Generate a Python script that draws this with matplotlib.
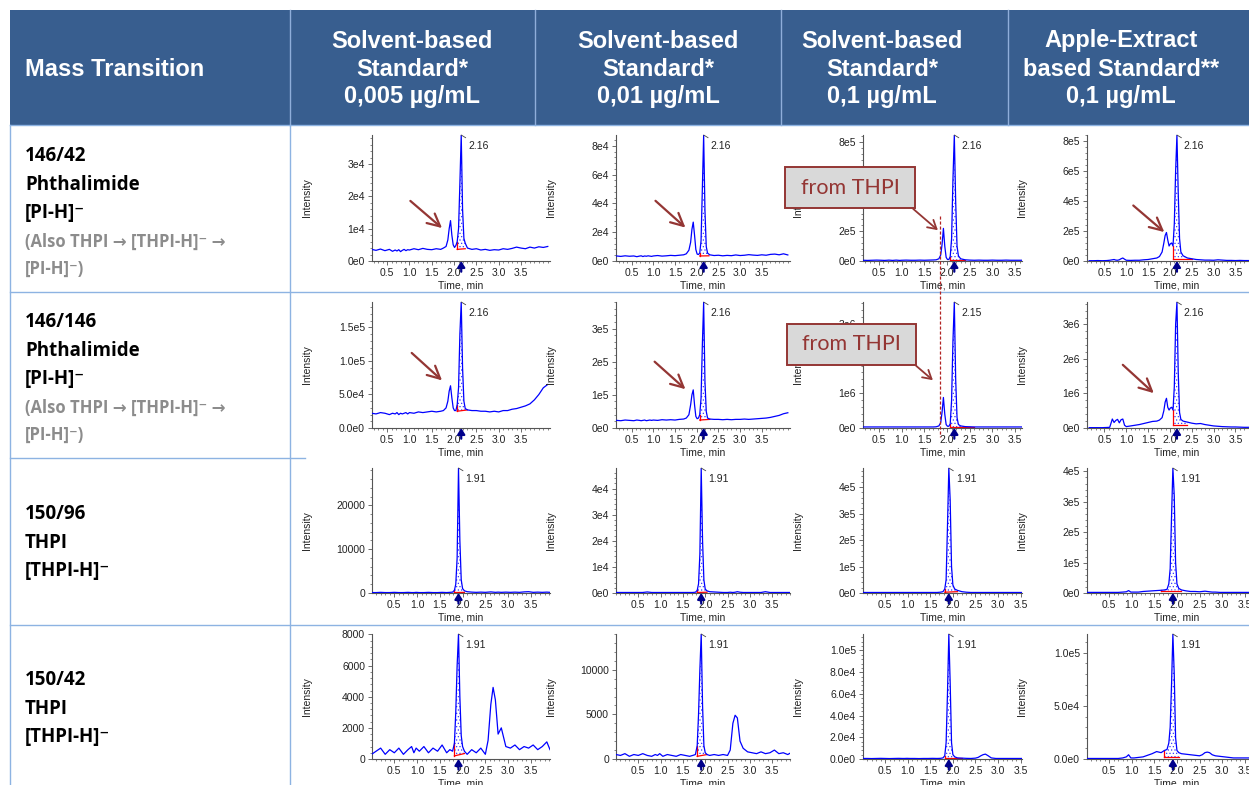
import numpy as np
import matplotlib.pyplot as plt
from matplotlib.patches import Rectangle, FancyArrowPatch
from matplotlib.lines import Line2D
from matplotlib.ticker import MultipleLocator, AutoMinorLocator

# ---- table text ----
header_titles = [
    ["Solvent-based", "Standard*", "0,005 µg/mL"],
    ["Solvent-based", "Standard*", "0,01 µg/mL"],
    ["Solvent-based", "Standard*", "0,1 µg/mL"],
    ["Apple-Extract", "based Standard**", "0,1 µg/mL"],
]
row_titles = [
    ["146/42", "Phthalimide", "[PI-H]\u207b"],
    ["146/146", "Phthalimide", "[PI-H]\u207b"],
    ["150/96", "THPI", "[THPI-H]\u207b"],
    ["150/42", "THPI", "[THPI-H]\u207b"],
]
row_notes = [
    ["(Also THPI \u2192 [THPI-H]\u207b \u2192", "[PI-H]\u207b)"],
    ["(Also THPI \u2192 [THPI-H]\u207b \u2192", "[PI-H]\u207b)"],
    [],
    [],
]
peak_labels = [
    ["2.16", "2.16", "2.16", "2.16"],
    ["2.16", "2.16", "2.15", "2.16"],
    ["1.91", "1.91", "1.91", "1.91"],
    ["1.91", "1.91", "1.91", "1.91"],
]

# ---- chromatogram data ----
# time grid (min) for the phthalimide rows
t_pi = [0.15, 0.25, 0.35, 0.45, 0.55, 0.62, 0.68, 0.72, 0.76, 0.80,
        0.84, 0.88, 0.92, 0.96, 1.0, 1.1, 1.2, 1.3, 1.4, 1.5,
        1.6, 1.7, 1.76, 1.82, 1.86, 1.89, 1.92, 1.95, 1.98, 2.01,
        2.04, 2.07, 2.10, 2.13, 2.16, 2.19, 2.22, 2.25, 2.30, 2.4,
        2.5, 2.6, 2.7, 2.8, 2.9, 3.0, 3.1, 3.2, 3.3, 3.4,
        3.5, 3.6, 3.7, 3.8, 3.9, 4.0, 4.1]

# 146/42 (x1e3, x1e3, x1e5, x1e5)
i146_42_s005 = [3.6, 3.3, 3.7, 3.2, 3.6, 3.0, 3.4, 3.1, 3.5, 2.9,
                3.3, 3.6, 3.2, 3.5, 3.4, 3.8, 3.5, 3.9, 3.6, 3.5,
                3.8, 3.6, 4.0, 4.5, 6.5, 10.0, 12.5, 8.0, 5.0, 4.2,
                4.8, 6.0, 10.0, 24.0, 39.0, 16.0, 7.0, 5.5, 4.0, 3.6,
                3.8, 3.4, 3.6, 3.3, 3.5, 3.4, 3.8, 3.6, 3.9, 4.3,
                4.0, 3.8, 4.3, 4.0, 4.4, 4.2, 4.5]
i146_42_s01 = [3.5, 3.2, 3.6, 3.3, 3.5, 3.0, 3.4, 3.6, 3.1, 3.5,
               3.3, 3.6, 3.4, 3.2, 3.5, 3.8, 3.4, 3.6, 3.9, 3.7,
               4.0, 4.3, 5.0, 7.5, 13.0, 22.0, 27.0, 18.0, 8.0, 4.8,
               4.5, 5.5, 14.0, 50.0, 87.5, 35.0, 10.0, 5.5, 4.3, 3.8,
               4.0, 3.6, 3.9, 3.7, 4.2, 3.8, 4.0, 4.4, 4.1, 3.9,
               4.3, 4.0, 4.6, 4.8, 4.3, 5.0, 4.2]
i146_42_s1 = [0.05, 0.04, 0.05, 0.06, 0.05, 0.04, 0.05, 0.06, 0.05, 0.04,
              0.05, 0.06, 0.05, 0.04, 0.05, 0.06, 0.05, 0.05, 0.06, 0.05,
              0.06, 0.07, 0.08, 0.15, 0.4, 1.1, 2.2, 1.0, 0.25, 0.1,
              0.1, 0.3, 1.5, 5.5, 8.5, 4.0, 1.0, 0.35, 0.15, 0.08,
              0.06, 0.05, 0.06, 0.05, 0.05, 0.06, 0.05, 0.05, 0.06, 0.05,
              0.05, 0.05, 0.05, 0.05, 0.05, 0.05, 0.05]
i146_42_apple = [0.02, 0.02, 0.03, 0.02, 0.03, 0.05, 0.08, 0.1, 0.06, 0.05,
                 0.08, 0.15, 0.2, 0.12, 0.05, 0.04, 0.05, 0.05, 0.08, 0.1,
                 0.15, 0.2, 0.3, 0.6, 1.2, 1.7, 1.9, 1.4, 1.0, 1.15,
                 1.2, 1.0, 2.5, 6.0, 8.4, 4.5, 1.5, 0.6, 0.35, 0.2,
                 0.15, 0.1, 0.08, 0.06, 0.06, 0.05, 0.08, 0.06, 0.04, 0.04,
                 0.03, 0.04, 0.03, 0.03, 0.03, 0.03, 0.03]

# 146/146 (x1e4, x1e4, x1e5, x1e5)
i146_146_s005 = [2.2, 2.1, 2.3, 2.2, 2.0, 2.2, 2.1, 2.3, 2.0, 2.2,
                 2.1, 2.2, 2.3, 2.1, 2.3, 2.2, 2.4, 2.3, 2.4, 2.5,
                 2.4, 2.5, 2.6, 3.0, 4.0, 5.5, 6.3, 4.5, 3.0, 2.6,
                 2.6, 3.5, 6.0, 14.0, 18.8, 9.0, 4.0, 2.9, 2.7, 2.6,
                 2.6, 2.5, 2.5, 2.4, 2.5, 2.4, 2.6, 2.6, 2.8, 2.9,
                 3.1, 3.3, 3.6, 4.2, 5.0, 6.0, 6.5]
i146_146_s01 = [2.3, 2.2, 2.4, 2.3, 2.2, 2.4, 2.3, 2.2, 2.3, 2.4,
                2.2, 2.3, 2.4, 2.3, 2.4, 2.3, 2.5, 2.4, 2.5, 2.4,
                2.6, 2.7, 3.0, 4.0, 7.0, 10.0, 11.5, 7.0, 3.5, 2.8,
                3.0, 4.0, 9.0, 25.0, 38.0, 14.0, 5.0, 3.0, 2.7, 2.6,
                2.6, 2.5, 2.6, 2.5, 2.6, 2.6, 2.7, 2.6, 2.7, 2.8,
                2.9, 3.0, 3.2, 3.5, 3.8, 4.3, 4.6]
i146_146_s1 = [0.3, 0.3, 0.3, 0.3, 0.3, 0.3, 0.3, 0.3, 0.3, 0.3,
               0.3, 0.3, 0.3, 0.3, 0.3, 0.3, 0.3, 0.3, 0.3, 0.3,
               0.3, 0.3, 0.35, 0.6, 1.5, 4.5, 8.8, 4.0, 1.0, 0.5,
               0.5, 1.2, 8.0, 25.0, 36.3, 14.0, 3.0, 1.0, 0.6, 0.4,
               0.35, 0.3, 0.3, 0.3, 0.3, 0.3, 0.3, 0.3, 0.3, 0.3,
               0.3, 0.3, 0.3, 0.3, 0.3, 0.3, 0.3]
i146_146_apple = [0.1, 0.1, 0.1, 0.1, 0.15, 0.2, 2.6, 1.6, 2.2, 2.5,
                  1.5, 2.4, 2.6, 0.8, 0.4, 0.6, 0.8, 1.0, 1.3, 1.6,
                  1.9, 2.0, 2.3, 3.0, 5.0, 7.5, 8.6, 6.0, 5.2, 5.8,
                  6.0, 5.2, 12.0, 30.0, 36.5, 16.0, 4.5, 2.5, 2.0, 1.7,
                  1.4, 1.2, 1.3, 1.0, 0.8, 0.6, 0.5, 0.4, 0.35, 0.3,
                  0.3, 0.25, 0.2, 0.2, 0.2, 0.2, 0.2]

# time grid (min) for the THPI rows
t_thpi = [0.0, 0.1, 0.2, 0.3, 0.4, 0.5, 0.6, 0.7, 0.8, 0.88,
          0.93, 0.98, 1.05, 1.15, 1.25, 1.35, 1.45, 1.55, 1.65, 1.72,
          1.78, 1.82, 1.85, 1.88, 1.91, 1.94, 1.97, 2.0, 2.04, 2.1,
          2.2, 2.3, 2.4, 2.5, 2.56, 2.62, 2.67, 2.72, 2.78, 2.85,
          2.95, 3.05, 3.15, 3.25, 3.35, 3.45, 3.55, 3.65, 3.75, 3.85,
          3.92]

# 150/96 (x1e3, x1e3, x1e5, x1e5)
i150_96_s005 = [0.1, 0.1, 0.15, 0.1, 0.1, 0.15, 0.1, 0.1, 0.15, 0.1,
                0.1, 0.15, 0.1, 0.1, 0.15, 0.1, 0.1, 0.15, 0.1, 0.15,
                0.2, 0.6, 2.0, 8.0, 28.5, 12.0, 3.0, 1.0, 0.5, 0.3,
                0.2, 0.15, 0.2, 0.15, 0.2, 0.25, 0.2, 0.15, 0.2, 0.15,
                0.2, 0.15, 0.2, 0.15, 0.25, 0.3, 0.15, 0.2, 0.15, 0.2,
                0.15]
i150_96_s01 = [0.2, 0.2, 0.2, 0.2, 0.2, 0.2, 0.2, 0.4, 0.2, 0.2,
               0.2, 0.2, 0.2, 0.2, 0.2, 0.2, 0.2, 0.2, 0.2, 0.2,
               0.3, 1.0, 3.5, 15.0, 47.9, 20.0, 5.0, 1.5, 0.8, 0.5,
               0.4, 0.3, 0.2, 0.2, 0.3, 0.2, 0.3, 0.5, 0.3, 0.2,
               0.2, 0.2, 0.2, 0.2, 0.5, 0.2, 0.2, 0.2, 0.2, 0.2,
               0.2]
i150_96_s1 = [0.02, 0.02, 0.02, 0.02, 0.02, 0.02, 0.02, 0.02, 0.02, 0.02,
              0.02, 0.02, 0.02, 0.02, 0.02, 0.02, 0.02, 0.02, 0.02, 0.03,
              0.05, 0.15, 0.5, 2.5, 4.72, 3.5, 1.0, 0.3, 0.15, 0.1,
              0.05, 0.03, 0.02, 0.02, 0.02, 0.02, 0.02, 0.02, 0.02, 0.02,
              0.02, 0.02, 0.02, 0.02, 0.02, 0.02, 0.02, 0.02, 0.02, 0.02,
              0.02]
i150_96_apple = [0.02, 0.02, 0.02, 0.02, 0.02, 0.02, 0.02, 0.02, 0.03, 0.04,
                 0.08, 0.03, 0.03, 0.03, 0.05, 0.06, 0.07, 0.08, 0.09, 0.1,
                 0.12, 0.3, 0.8, 2.5, 4.11, 3.2, 1.0, 0.3, 0.15, 0.1,
                 0.07, 0.05, 0.05, 0.04, 0.05, 0.06, 0.05, 0.04, 0.03, 0.03,
                 0.02, 0.02, 0.02, 0.02, 0.02, 0.02, 0.02, 0.02, 0.02, 0.02,
                 0.02]

# 150/42 (x1e3, x1e3, x1e4, x1e4)
i150_42_s005 = [0.3, 0.5, 0.7, 0.3, 0.6, 0.4, 0.7, 0.3, 0.6, 0.8,
                0.4, 0.7, 0.5, 0.8, 0.4, 0.7, 0.5, 0.9, 0.4, 0.6,
                0.5, 1.0, 3.0, 6.0, 8.03, 4.0, 1.5, 0.8, 0.5, 0.3,
                0.6, 0.4, 0.7, 0.3, 1.2, 3.5, 4.6, 3.8, 1.6, 2.0,
                0.8, 0.7, 0.9, 0.6, 0.8, 0.7, 0.9, 0.6, 0.8, 1.1,
                0.6]
i150_42_s01 = [0.5, 0.4, 0.6, 0.3, 0.5, 0.4, 0.6, 0.4, 0.3, 0.5,
               0.4, 0.6, 0.3, 0.5, 0.4, 0.3, 0.5, 0.4, 0.3, 0.4,
               0.5, 1.5, 5.0, 10.0, 14.0, 6.0, 1.5, 0.7, 0.5, 0.4,
               0.5, 0.4, 0.5, 0.4, 1.0, 4.0, 4.9, 4.6, 2.0, 1.2,
               0.8, 0.7, 0.6, 0.8, 0.6, 0.7, 1.0, 0.6, 0.7, 0.5,
               0.7]
i150_42_s1 = [0.05, 0.05, 0.04, 0.05, 0.06, 0.05, 0.04, 0.05, 0.06, 0.05,
              0.05, 0.06, 0.05, 0.05, 0.04, 0.05, 0.05, 0.06, 0.05, 0.06,
              0.1, 0.3, 1.5, 6.0, 11.52, 7.0, 1.5, 0.4, 0.2, 0.1,
              0.08, 0.06, 0.05, 0.08, 0.15, 0.3, 0.4, 0.45, 0.3, 0.1,
              0.05, 0.05, 0.05, 0.05, 0.05, 0.05, 0.05, 0.05, 0.05, 0.05,
              0.05]
i150_42_apple = [0.05, 0.05, 0.05, 0.05, 0.05, 0.05, 0.05, 0.05, 0.1, 0.2,
                 0.4, 0.1, 0.1, 0.15, 0.2, 0.35, 0.5, 0.7, 0.6, 0.8,
                 0.9, 1.5, 3.0, 7.0, 11.78, 8.0, 2.0, 0.8, 0.6, 0.5,
                 0.45, 0.4, 0.35, 0.3, 0.4, 0.6, 0.65, 0.6, 0.4, 0.3,
                 0.25, 0.2, 0.15, 0.1, 0.1, 0.1, 0.1, 0.1, 0.1, 0.1,
                 0.1]

traces = [
    [i146_42_s005, i146_42_s01, i146_42_s1, i146_42_apple],
    [i146_146_s005, i146_146_s01, i146_146_s1, i146_146_apple],
    [i150_96_s005, i150_96_s01, i150_96_s1, i150_96_apple],
    [i150_42_s005, i150_42_s01, i150_42_s1, i150_42_apple],
]
units = [
    [1e3, 1e3, 1e5, 1e5],
    [1e4, 1e4, 1e5, 1e5],
    [1e3, 1e3, 1e5, 1e5],
    [1e3, 1e3, 1e4, 1e4],
]
# integrated peak: start, end, baseline at start, baseline at end (same units)
integ = [
    [(2.07, 2.25, 3.6, 3.8), (2.07, 2.28, 3.5, 3.6), (2.07, 2.4, 0.05, 0.05), (2.07, 2.5, 0.12, 0.12)],
    [(2.07, 2.30, 2.5, 2.7), (2.07, 2.30, 2.4, 2.6), (2.07, 2.6, 0.3, 0.3), (2.07, 2.4, 1.0, 1.0)],
    [(1.82, 2.04, 0.1, 0.15), (1.82, 2.04, 0.2, 0.3), (1.82, 2.1, 0.03, 0.05), (1.65, 2.1, 0.08, 0.08)],
    [(1.82, 2.04, 0.2, 0.35), (1.82, 2.04, 0.3, 0.5), (1.82, 2.2, 0.05, 0.05), (1.72, 2.04, 0.2, 0.2)],
]
yticks = [
    [[0, 1e4, 2e4, 3e4], [0, 2e4, 4e4, 6e4, 8e4], [0, 2e5, 4e5, 6e5, 8e5], [0, 2e5, 4e5, 6e5, 8e5]],
    [[0, 5e4, 1e5, 1.5e5], [0, 1e5, 2e5, 3e5], [0, 1e6, 2e6, 3e6], [0, 1e6, 2e6, 3e6]],
    [[0, 1e4, 2e4], [0, 1e4, 2e4, 3e4, 4e4], [0, 1e5, 2e5, 3e5, 4e5], [0, 1e5, 2e5, 3e5, 4e5]],
    [[0, 2000, 4000, 6000, 8000], [0, 5000, 10000], [0, 2e4, 4e4, 6e4, 8e4, 1e5], [0, 5e4, 1e5]],
]
ytick_labels = [
    [["0e0", "1e4", "2e4", "3e4"], ["0e0", "2e4", "4e4", "6e4", "8e4"],
     ["0e0", "2e5", "4e5", "6e5", "8e5"], ["0e0", "2e5", "4e5", "6e5", "8e5"]],
    [["0.0e0", "5.0e4", "1.0e5", "1.5e5"], ["0e0", "1e5", "2e5", "3e5"],
     ["0e0", "1e6", "2e6", "3e6"], ["0e0", "1e6", "2e6", "3e6"]],
    [["0", "10000", "20000"], ["0e0", "1e4", "2e4", "3e4", "4e4"],
     ["0e0", "1e5", "2e5", "3e5", "4e5"], ["0e0", "1e5", "2e5", "3e5", "4e5"]],
    [["0", "2000", "4000", "6000", "8000"], ["0", "5000", "10000"],
     ["0.0e0", "2.0e4", "4.0e4", "6.0e4", "8.0e4", "1.0e5"], ["0.0e0", "5.0e4", "1.0e5"]],
]

# ---- layout in pixels ----
W, H = 1249, 785
col_px = [(372, 550), (616, 790), (863, 1022), (1087, 1266)]
row_px = [(135, 261), (302, 428), (468, 593), (634, 759)]
xlims = [
    [(0.16, 4.15), (0.14, 4.15), (0.15, 3.65), (0.10, 4.2)],
    [(0.16, 4.15), (0.14, 4.15), (0.15, 3.65), (0.10, 4.2)],
    [(0.01, 3.92), (0.0, 3.9), (0.01, 3.53), (0.01, 3.97)],
    [(0.01, 3.92), (0.0, 3.9), (0.01, 3.53), (0.01, 3.97)],
]
ARROW_RED = '#943634'
TRACE = '#0000ff'


def fx(px):
    return px / W


def fy(py):
    return 1 - py / H


fig = plt.figure(figsize=(W / 100, H / 100), dpi=100)
plt.rcParams['hatch.linewidth'] = 0.5


def fig_line(x0, y0, x1, y1, **kw):
    fig.add_artist(Line2D([fx(x0), fx(x1)], [fy(y0), fy(y1)], transform=fig.transFigure, **kw))


# header band
fig.add_artist(Rectangle((fx(10), fy(125)), fx(1249) - fx(10), 115 / H, transform=fig.transFigure,
                         facecolor='#385E8F', edgecolor='none', zorder=0.5))
for xs in [290, 535, 781, 1008]:
    fig_line(xs, 10, xs, 125, color='#8FAEDA', lw=1)
fig.text(fx(25), fy(69), "Mass Transition", color='white', fontsize=17, fontweight='bold',
         family='Liberation Sans', ha='left', va='center')
head_cx = [412, 658, 882, 1121]
for cx, lines in zip(head_cx, header_titles):
    for k, s in enumerate(lines):
        fig.text(fx(cx), fy(41 + 28 * k), s, color='white', fontsize=17, fontweight='bold',
                 family='Liberation Sans', ha='center', va='center')

# table grid
grid_c = '#8DB3E2'
fig_line(10, 125, 10, 785, color=grid_c, lw=1)
fig_line(290, 125, 290, 785, color=grid_c, lw=1)
fig_line(10, 125, 1249, 125, color=grid_c, lw=1)
fig_line(10, 292, 1249, 292, color=grid_c, lw=1)
fig_line(10, 458, 305, 458, color=grid_c, lw=1)
fig_line(10, 625, 1249, 625, color=grid_c, lw=1)

# row labels
row_y0 = [156, 322, 514, 680]
for y0, lines, notes in zip(row_y0, row_titles, row_notes):
    for k, s in enumerate(lines):
        fig.text(fx(25), fy(y0 + 28.5 * k), s, color='black', fontsize=13.5, fontweight='bold',
                 family=['Open Sans', 'DejaVu Sans'], ha='left', va='center')
    for k, s in enumerate(notes):
        fig.text(fx(25), fy(y0 + 28.5 * 3 + 27.5 * k), s, color='#8C8C8C', fontsize=12,
                 fontweight='bold', family=['Open Sans', 'DejaVu Sans'], ha='left', va='center')

# red arrows pointing at the THPI-derived peak (data coords of each panel)
red_arrows = {
    (0, 0): ((1.02, 1.86e4), (1.73, 1.02e4)),
    (0, 1): ((1.05, 4.18e4), (1.74, 2.32e4)),
    (0, 3): ((1.16, 3.7e5), (1.87, 1.93e5)),
    (1, 0): ((1.05, 1.12e5), (1.73, 7.1e4)),
    (1, 1): ((1.03, 2.0e5), (1.74, 1.17e5)),
    (1, 3): ((0.92, 1.83e6), (1.63, 1.01e6)),
}

for r in range(4):
    t = np.array(t_pi if r < 2 else t_thpi)
    for c in range(4):
        y = np.array(traces[r][c]) * units[r][c]
        x0, x1 = col_px[c]
        top, bot = row_px[r]
        ax = fig.add_axes([fx(x0), fy(bot), (x1 - x0) / W, (bot - top) / H])
        ymax = y.max()
        ax.set_xlim(*xlims[r][c])
        ax.set_ylim(0, ymax)

        # integrated area
        a, b, b0, b1 = integ[r][c]
        b0 *= units[r][c]
        b1 *= units[r][c]
        m = (t >= a) & (t <= b)
        ts = t[m]
        base = b0 + (b1 - b0) * (ts - a) / (b - a)
        ax.fill_between(ts, base, np.maximum(y[m], base), facecolor='none', edgecolor='#3a3aff',
                        hatch='.....', linewidth=0, zorder=1)
        ax.plot([a, b], [b0, b1], color='red', lw=0.9, zorder=2)
        ax.plot([a, a], [b0, np.interp(a, t, y)], color='red', lw=0.9, zorder=2)
        ax.plot(t, y, color=TRACE, lw=0.9, zorder=3)

        # apex label
        ip = int(np.argmax(y))
        tp = t[ip]
        ax.annotate(peak_labels[r][c], xy=(tp, ymax), xytext=(5, -4), textcoords='offset points',
                    ha='left', va='top', fontsize=7.5, family='Liberation Sans', color='#222222',
                    arrowprops=dict(arrowstyle='-', lw=0.6, color='#444444', shrinkA=0, shrinkB=0),
                    annotation_clip=False)
        # retention time marker
        ax.annotate('', xy=(tp, 0.0), xycoords=('data', 'axes fraction'),
                    xytext=(tp, -0.085), textcoords=('data', 'axes fraction'),
                    arrowprops=dict(arrowstyle='-|>,head_width=0.22,head_length=0.35',
                                    color='#00008B', lw=1.6, shrinkA=0, shrinkB=0),
                    annotation_clip=False)

        if (r, c) in red_arrows:
            tail, head = red_arrows[(r, c)]
            ax.annotate('', xy=head, xytext=tail,
                        arrowprops=dict(arrowstyle='->,head_length=0.9,head_width=0.45',
                                        color=ARROW_RED, lw=1.6, shrinkA=0, shrinkB=0),
                        annotation_clip=False)

        # axes style
        for sp in ['top', 'right']:
            ax.spines[sp].set_visible(False)
        for sp in ['left', 'bottom']:
            ax.spines[sp].set_color('#555555')
            ax.spines[sp].set_linewidth(0.8)
        ax.set_xticks([0.5, 1.0, 1.5, 2.0, 2.5, 3.0, 3.5])
        ax.set_xticklabels(['0.5', '1.0', '1.5', '2.0', '2.5', '3.0', '3.5'])
        ax.xaxis.set_minor_locator(MultipleLocator(0.1))
        ax.set_yticks(yticks[r][c])
        ax.set_yticklabels(ytick_labels[r][c])
        ax.yaxis.set_minor_locator(AutoMinorLocator(5))
        ax.tick_params(which='major', labelsize=7.5, length=3, width=0.6, color='#555555',
                       labelcolor='#222222', pad=2)
        ax.tick_params(which='minor', length=1.5, width=0.5, color='#555555')
        for lab in ax.get_xticklabels() + ax.get_yticklabels():
            lab.set_family('Liberation Sans')
        ax.set_xlabel('Time, min', fontsize=7.5, family='Liberation Sans', color='#222222', labelpad=2)
        ax.set_ylabel('Intensity', fontsize=7.5, family='Liberation Sans', color='#222222')
        ax.yaxis.set_label_coords(-60 / (x1 - x0), 0.5)
        ax.patch.set_alpha(0)

# "from THPI" callouts on the 0,1 µg/mL solvent standard
for (bx0, by0, bx1, by1), tail, head in [((785, 167, 915, 208), (911, 207), (940, 232)),
                                          ((787, 324, 916, 365), (914, 364), (935, 382))]:
    fig.add_artist(Rectangle((fx(bx0), fy(by1)), (bx1 - bx0) / W, (by1 - by0) / H,
                             transform=fig.transFigure, facecolor='#D9D9D9',
                             edgecolor=ARROW_RED, lw=1.4, zorder=5))
    fig.text(fx((bx0 + bx1) / 2), fy((by0 + by1) / 2), 'from THPI', color=ARROW_RED,
             fontsize=15.5, family='Lato', ha='center', va='center', zorder=6)
    fig.add_artist(FancyArrowPatch(
        (fx(tail[0]), fy(tail[1])), (fx(head[0]), fy(head[1])), transform=fig.transFigure,
        arrowstyle='->,head_length=6,head_width=3.5', color=ARROW_RED, lw=1.3, zorder=6))

fig_line(940, 216, 940, 437, color='#B22222', lw=0.9, linestyle=(0, (2.5, 1.5)), zorder=4)

fig.savefig('out.png', dpi=100)
